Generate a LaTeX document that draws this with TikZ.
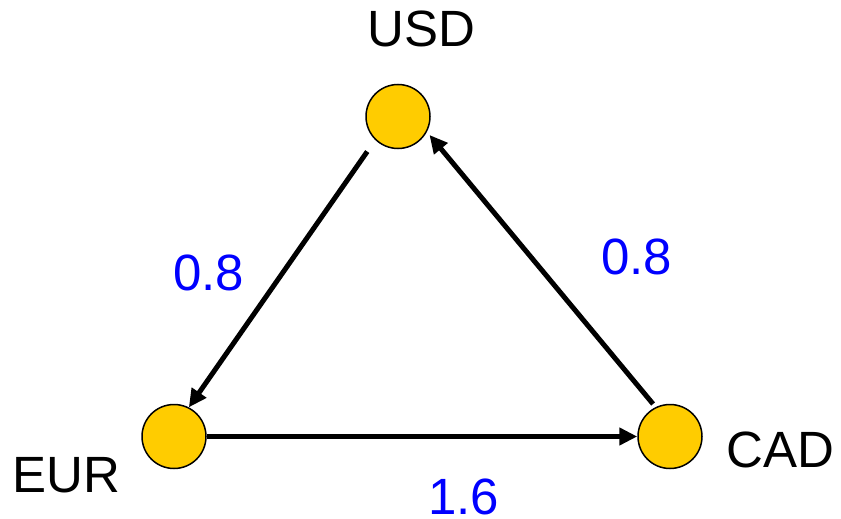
\documentclass[tikz,border=0pt]{standalone}
\usepackage{fontspec}
\setmainfont{Liberation Sans}
\usetikzlibrary{arrows.meta}
\definecolor{cur}{HTML}{FFCC00}
\definecolor{rate}{HTML}{0000FF}
\begin{document}
\begin{tikzpicture}[x=1pt,y=-1pt,
  currency/.style={circle,draw=black,line width=1.5pt,fill=cur,minimum size=64pt,inner sep=0pt},
  edge/.style={line width=5pt,-{Triangle[length=18pt,width=17pt]}},
  lbl/.style={font=\fontsize{51}{60}\selectfont,inner sep=0pt,anchor=base west},
  ratelbl/.style={lbl,text=rate}]
\useasboundingbox (0,0) rectangle (841,519);
\node[currency] (usd) at (398,116.5) {};
\node[currency] (eur) at (174,436.5) {};
\node[currency] (cad) at (670,436.5) {};
\node[lbl] (usdl) at (367,47) {USD};
\node[lbl] (eurl) at (12,492) {EUR};
\node[lbl] (cadl) at (726,467) {CAD};
\node[ratelbl] (r1) at (173,290) {0.8};
\node[ratelbl] (r2) at (601,274) {0.8};
\node[ratelbl] (r3) at (428,514) {1.6};
\draw[edge,shorten <=14pt] (usd.-134) -- (eur.63);
\draw[edge,shorten <=4pt,shorten >=4pt] (cad.116) -- (usd.-28);
\draw[edge] (eur.east) -- (cad.west);
\end{tikzpicture}
\end{document}
